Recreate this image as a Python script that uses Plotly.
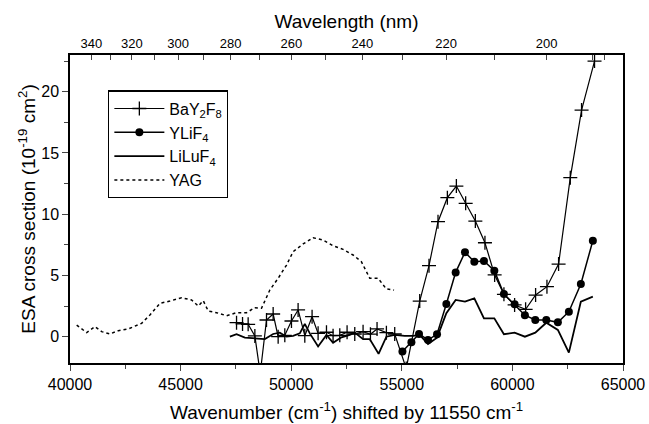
import plotly.graph_objects as go

SHIFT = 11550  # cm-1 shift between axis and real photon wavenumber

# ---- data (wavenumber shifted, cm-1 ; ESA cross section 1e-19 cm2) ----
bay_x = [47529, 47800, 48054, 48357, 48600, 48884, 49184, 49410, 49711, 50012,
         50312, 50615, 50944, 51216, 51595, 51893, 52196, 52526, 52874, 53249,
         53582, 53881, 54304, 54680, 55200, 55810, 56230, 56637, 57060, 57467,
         57887, 58325, 58759, 59197, 59617, 60100, 60597, 61049, 61562, 62088,
         62617, 63127, 63713]
bay_y = [1.14, 1.04, 1.01, 0.06, -3.0, 1.36, 1.85, 0.0, 0.11, 1.28,
         2.18, 0.08, 1.63, 0.27, 0.36, 0.08, 0.11, 0.36, 0.22, 0.41,
         0.2, 0.63, 0.33, 0.22, -2.6, 2.91, 5.80, 9.39, 11.35, 12.30,
         10.89, 9.44, 7.67, 5.04, 3.46, 2.59, 2.23, 3.40, 4.08, 5.93,
         12.98, 18.5, 22.5]

ylif_x = [55028, 55434, 55779, 56185, 56592, 57014, 57435, 57856, 58279, 58714,
          59183, 59616, 60100, 60565, 61035, 61532, 62056, 62553, 63095, 63637]
ylif_y = [-1.22, -0.46, 0.22, -0.27, 0.19, 2.67, 5.25, 6.89, 6.12, 6.18,
          5.39, 3.49, 2.64, 1.75, 1.36, 1.36, 1.17, 2.04, 4.30, 7.84]

lilu_x = [47227, 47529, 47905, 48280, 48582, 48808, 49184, 49485, 49789, 50087,
          50389, 50615, 50841, 51216, 51595, 51893, 52273, 52648, 52874, 53249,
          53551, 53950, 54304, 54680, 55131, 55507, 55810, 56185, 56592, 57014,
          57435, 57856, 58279, 58714, 59183, 59616, 60100, 60565, 61035, 61532,
          62056, 62553, 63095, 63637]
lilu_y = [0.0, 0.2, -0.08, -0.13, -0.2, -0.2, 0.22, 0.33, 0.0, 0.06,
          0.27, 1.04, 0.27, -0.8, 0.14, -0.5, -0.05, 0.14, 0.33, -0.2,
          -0.2, -1.4, 0.0, 0.14, 0.06, 0.06, 0.14, -0.6, -0.08, 1.91,
          3.0, 2.86, 3.13, 1.50, 1.50, 0.2, 0.33, 0.0, 0.33, 1.14,
          0.55, -1.3, 2.86, 3.27]

yag_x = [40302, 40754, 41129, 41431, 41807, 42183, 42635, 43237, 43614, 44065,
         44517, 45044, 45496, 45797, 46023, 46249, 46625, 47077, 47529, 47981,
         48357, 48658, 49034, 49410, 49789, 50087, 50538, 50990, 51442, 51893,
         52345, 52797, 53174, 53551, 53926, 54300, 54650]
yag_y = [0.95, 0.33, 0.82, 0.41, 0.22, 0.49, 0.63, 1.09, 1.77, 2.72,
         2.91, 3.18, 3.0, 2.5, 2.94, 2.1, 1.96, 1.71, 1.96, 1.96,
         2.37, 2.32, 3.81, 4.77, 5.85, 6.94, 7.57, 8.08, 7.89, 7.43,
         7.13, 6.67, 6.12, 4.77, 4.77, 3.9, 3.8]

wn_ticks = [40000, 45000, 50000, 55000, 60000, 65000]
esa_ticks = [0, 5, 10, 15, 20]
wl_labeled = [340, 320, 300, 280, 260, 240, 220, 200]
wl_minor = [330, 310, 290, 270, 250, 230, 210, 190, 192]

FONT = "Liberation Sans, Arial, sans-serif"

fig = go.Figure()
fig.add_trace(go.Scatter(
    x=bay_x, y=bay_y, name="BaY<sub>2</sub>F<sub>8</sub>", mode="lines+markers",
    line=dict(color="black", width=1.2),
    marker=dict(symbol="cross-thin", size=10, line=dict(color="black", width=1.3))))
fig.add_trace(go.Scatter(
    x=ylif_x, y=ylif_y, name="YLiF<sub>4</sub>", mode="lines+markers",
    line=dict(color="black", width=1.5),
    marker=dict(symbol="circle", size=8, color="black")))
fig.add_trace(go.Scatter(
    x=lilu_x, y=lilu_y, name="LiLuF<sub>4</sub>", mode="lines",
    line=dict(color="black", width=1.8)))
fig.add_trace(go.Scatter(
    x=yag_x, y=yag_y, name="YAG", mode="lines",
    line=dict(color="black", width=1.5, dash="dot")))

# invisible trace to carry the top wavelength axis
fig.add_trace(go.Scatter(x=[40000, 65000], y=[None, None], xaxis="x2",
                         showlegend=False, hoverinfo="skip", mode="lines"))

top_vals = [1e7 / w + SHIFT for w in wl_labeled + wl_minor]
top_text = [str(w) for w in wl_labeled] + ["" for _ in wl_minor]

fig.update_layout(
    template="none",
    width=649, height=424,
    margin=dict(l=70, r=26, t=55, b=61),
    paper_bgcolor="white", plot_bgcolor="white",
    font=dict(family=FONT, color="black"),
    showlegend=True,
    legend=dict(x=0.069, y=0.885, xanchor="left", yanchor="top",
                bordercolor="black", borderwidth=1.2, bgcolor="white",
                font=dict(size=16, family=FONT), itemwidth=50,
                tracegroupgap=0),
    xaxis=dict(range=[40000, 65000], showgrid=False, zeroline=False, automargin=False,
               showline=True, linecolor="black", linewidth=1.5,
               tickmode="array", tickvals=wn_ticks, ticktext=[str(v) for v in wn_ticks],
               ticks="outside", ticklen=6, tickwidth=1.2,
               minor=dict(tickmode="array",
                          tickvals=[v + 2500 for v in wn_ticks[:-1]],
                          ticks="outside", ticklen=4, tickwidth=1.2),
               tickfont=dict(size=16),
               title=dict(text="Wavenumber (cm<sup>-1</sup>) shifted by 11550 cm<sup>-1</sup>",
                          font=dict(size=19), standoff=14)),
    xaxis2=dict(range=[40000, 65000], overlaying="x", side="top", showgrid=False,
                zeroline=False, showline=True, linecolor="black", linewidth=1.5,
                automargin=False,
                tickmode="array", tickvals=top_vals, ticktext=top_text,
                ticks="inside", ticklen=5, tickwidth=1.2,
                tickfont=dict(size=13),
                title=dict(text="Wavelength (nm)", font=dict(size=19), standoff=2)),
    yaxis=dict(range=[-2.15, 23.0], showgrid=False, zeroline=False, automargin=False,
               showline=True, linecolor="black", linewidth=1.5, mirror=True,
               tickmode="array", tickvals=esa_ticks, ticktext=[str(v) for v in esa_ticks],
               ticks="outside", ticklen=6, tickwidth=1.2,
               minor=dict(tickmode="array", tickvals=[v + 2.5 for v in esa_ticks],
                          ticks="outside", ticklen=4, tickwidth=1.2),
               tickfont=dict(size=16),
               title=dict(text="ESA cross section (10<sup>-19</sup> cm<sup>2</sup>)",
                          font=dict(size=19), standoff=1)),
)

fig.write_html("out.html", config={"displayModeBar": False},
               post_script="document.body.style.margin='0px';")
